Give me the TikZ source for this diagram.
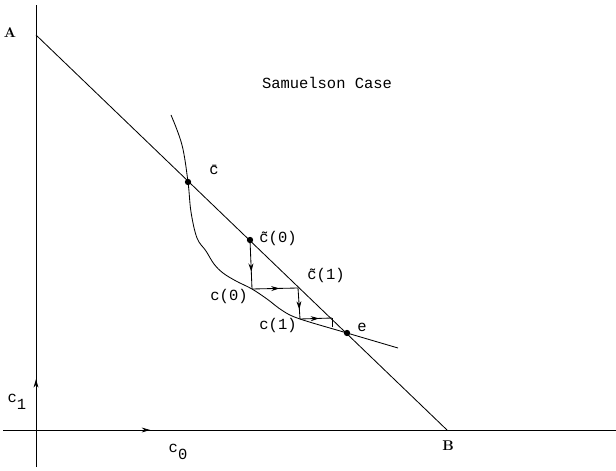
\documentclass[tikz,border=0pt]{standalone}
\usepackage{fontspec}
\setmonofont{Liberation Mono}
\usetikzlibrary{arrows.meta,decorations.markings}
\tikzset{
  midarrow/.style={postaction={decorate},decoration={markings,mark=at position #1 with {\arrow{Stealth[length=6pt,width=3.5pt]}}}},
  pt/.style={shape=circle,inner sep=0pt,minimum size=4.5pt,fill=black},
  lbl/.style={font=\ttfamily\fontsize{11}{13}\selectfont,inner sep=1pt}
}
\newcommand{\lowsub}[1]{\raisebox{-5pt}{#1}}
\begin{document}
\begin{tikzpicture}[x=0.025cm,y=-0.025cm,line width=0.6pt]
\useasboundingbox (0,0) rectangle (616,471);
% axes
\coordinate (ybot) at (36,467);
\coordinate (ytop) at (36,5);
\coordinate (xl) at (3,430);
\coordinate (xr) at (616,430);
\draw[midarrow=0.19] (ybot)--(ytop);
\draw[midarrow=0.24] (xl)--(xr);
% budget line
\coordinate (A) at (36,35);
\coordinate (B) at (447,430);
\draw (A)--(B);
% points
\node[pt] (cbar) at (188,182) {};
\node[pt] (ct0) at (250,240) {};
\node[pt] (e) at (347,333) {};
\coordinate (c0) at (252,289);
\coordinate (ct1) at (298,288);
\coordinate (c1) at (300,319);
\coordinate (k) at (332,318);
\coordinate (kk) at (332,327);
% curve
\draw plot[smooth,tension=0.6] coordinates {(171,115) (182,145) (188,182) (191,212) (197,238) (206,251) (214,264) (223,273) (236,281) (252,289) (267,299) (283,311) (300,319) (347,333) (398,348)};
% adjustment path
\draw[midarrow=0.65] (ct0.center)--(c0);
\draw[midarrow=0.6] (c0)--(ct1);
\draw[midarrow=0.7] (ct1)--(c1);
\draw[midarrow=0.6] (c1)--(k);
\draw (k)--(kk);
% labels
\node[font=\bfseries] at (10,33) {A};
\node[font=\bfseries] at (448,446) {B};
\node[lbl] at (17,402) {c\lowsub{1}};
\node[lbl] at (178,452) {c\lowsub{0}};
\node[lbl] at (327,83) {Samuelson Case};
\node[lbl] at (214,170) {\={c}};
\node[lbl] at (278,239) {\~{c}(0)};
\node[lbl] at (326,276) {\~{c}(1)};
\node[lbl] at (229,297) {c(0)};
\node[lbl] at (278,325) {c(1)};
\node[lbl] at (362,327) {e};
\end{tikzpicture}
\end{document}
